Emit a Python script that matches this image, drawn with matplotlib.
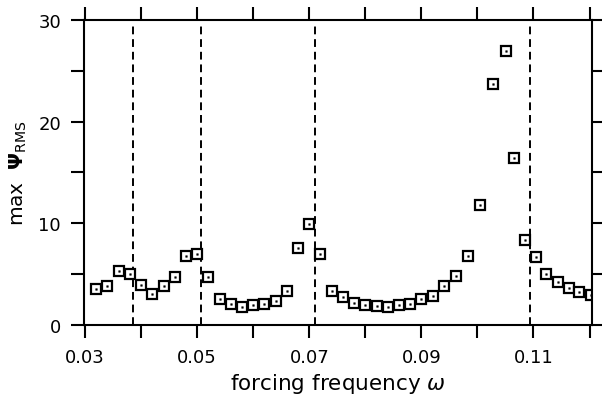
import matplotlib
matplotlib.use("Agg")
import matplotlib.pyplot as plt

omega = [0.0320, 0.0339, 0.0360, 0.0380, 0.0400, 0.0420, 0.0440, 0.0460, 0.0480, 0.0500,
         0.0520, 0.0540, 0.0560, 0.0580, 0.0600, 0.0620, 0.0640, 0.0660, 0.0680, 0.0700,
         0.0720, 0.0740, 0.0760, 0.0780, 0.0800, 0.0820, 0.0840, 0.0860, 0.0880, 0.0900,
         0.0921, 0.0941, 0.0962, 0.0983, 0.1005, 0.1028, 0.1051, 0.1066, 0.1085, 0.1104,
         0.1123, 0.1143, 0.1163, 0.1182, 0.1202]
psi_max = [3.5, 3.86, 5.3, 5.04, 3.93, 3.07, 3.86, 4.7, 6.78, 6.97,
           4.68, 2.52, 2.03, 1.74, 1.96, 2.06, 2.39, 3.34, 7.53, 9.89,
           6.97, 3.37, 2.78, 2.16, 1.96, 1.87, 1.80, 1.96, 2.09, 2.52,
           2.88, 3.80, 4.81, 6.75, 11.79, 23.7, 26.9, 16.47, 8.38, 6.68,
           4.98, 4.25, 3.63, 3.21, 2.95]
resonances = [0.0385, 0.0507, 0.0711, 0.1093]
xticks = [0.03, 0.04, 0.05, 0.06, 0.07, 0.08, 0.09, 0.10, 0.11, 0.12]
xticklabels = ["0.03", "", "0.05", "", "0.07", "", "0.09", "", "0.11", ""]
yticks = [0, 10, 20, 30]
yminor = [5, 15, 25]

fig = plt.figure(figsize=(6.02, 4.02), dpi=100)
ax = fig.add_axes([0.1395, 0.189, 0.8435, 0.759])

for xr in resonances:
    ax.axvline(xr, color="black", linestyle=(0, (4, 2.5)), linewidth=1.4, ymax=0.985)

ax.plot(omega, psi_max, linestyle="none", marker="s", markersize=6.5,
        markerfacecolor="white", markeredgecolor="black", markeredgewidth=1.6)
ax.plot(omega, psi_max, linestyle="none", marker="s", markersize=1.2,
        markerfacecolor="black", markeredgecolor="black", markeredgewidth=0.3)

ax.set_xlim(0.0298, 0.1204)
ax.set_ylim(0, 30)
ax.set_xticks(xticks)
ax.set_xticklabels(xticklabels)
ax.set_yticks(yticks)
ax.set_yticks(yminor, minor=True)

for s in ax.spines.values():
    s.set_linewidth(1.5)

ax.tick_params(axis="both", which="both", direction="out", width=1.5,
               length=9.5, top=True, right=True, labelsize=13)
ax.tick_params(axis="x", labeltop=False, pad=7)
ax.tick_params(axis="y", labelright=False, pad=7)

ax.set_xlabel(r"forcing frequency $\omega$", fontsize=15.5, labelpad=4)
ax.set_ylabel(r"max  $\mathbf{\Psi}_{\mathrm{RMS}}$", fontsize=14.5, labelpad=7)

fig.savefig("out.png", dpi=100)
